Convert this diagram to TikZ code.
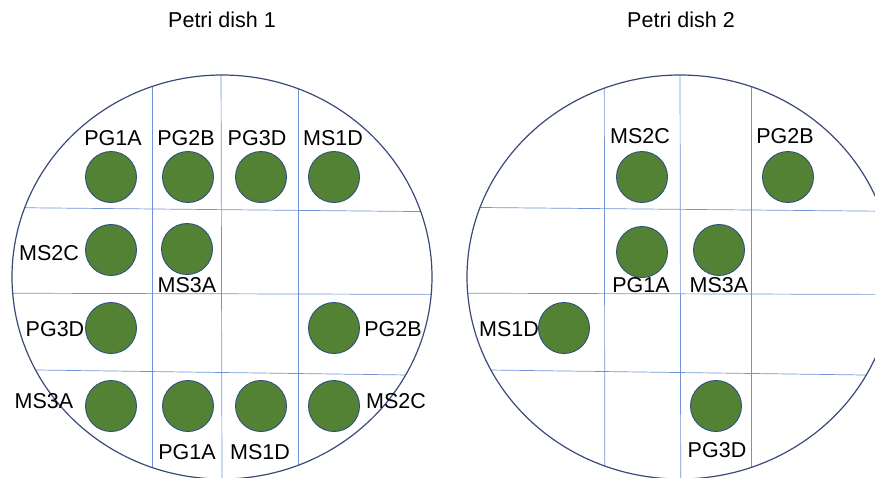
\documentclass[tikz,border=0pt]{standalone}
\usepackage{fontspec}
\setmainfont{Liberation Sans}
\definecolor{colony}{HTML}{548235}
\definecolor{colonyedge}{HTML}{2F4F7F}
\definecolor{gridblue}{HTML}{6F93D6}
\definecolor{dishedge}{HTML}{3A4A78}
\tikzset{
  colonynode/.style={circle,fill=colony,draw=colonyedge,line width=0.9pt,minimum size=51pt,inner sep=0pt},
  lbl/.style={anchor=base,inner sep=0pt,font=\fontsize{21.5}{24}\selectfont},
  gridline/.style={draw=gridblue,line width=0.7pt},
  dish/.style={draw=dishedge,line width=1.2pt}
}
\begin{document}
\begin{tikzpicture}[x=1pt,y=-1pt]
\useasboundingbox (0,0) rectangle (875,477);
% titles
\node[lbl] (t1) at (222,27) {Petri dish 1};
\node[lbl] (t2) at (681,27) {Petri dish 2};
% dish 1 grid
\begin{scope}
  \clip (222,277) ellipse [x radius=210, y radius=202];
  \draw[gridline] (0,207.5) -- (445,211.8);
  \draw[gridline] (0,293.2) -- (445,294.4);
  \draw[gridline] (0,369.5) -- (445,375.5);
  \draw[gridline] (152,60) -- (152,480);
  \draw[gridline] (221,60) -- (222,480);
  \draw[gridline] (298,60) -- (298,480);
\end{scope}
\draw[dish] (222,277) ellipse [x radius=210, y radius=202];
% dish 2 grid
\begin{scope}
  \clip (680,277) ellipse [x radius=213, y radius=202];
  \draw[gridline] (460,207.3) -- (880,211.2);
  \draw[gridline] (460,293.2) -- (880,294.4);
  \draw[gridline] (460,369.6) -- (880,375.2);
  \draw[gridline] (604.3,60) -- (604.8,480);
  \draw[gridline] (680,60) -- (680.7,480);
  \draw[gridline] (751.7,60) -- (751.7,480);
\end{scope}
\draw[dish] (680,277) ellipse [x radius=213, y radius=202];
% dish 1 colonies
\node[colonynode] (a1) at (111,177) {};
\node[colonynode] (a2) at (188,177) {};
\node[colonynode] (a3) at (261,177) {};
\node[colonynode] (a4) at (334,177) {};
\node[colonynode] (b1) at (111,250) {};
\node[colonynode] (b2) at (187,249) {};
\node[colonynode] (c1) at (111,328) {};
\node[colonynode] (c4) at (334,328) {};
\node[colonynode] (d1) at (111,406) {};
\node[colonynode] (d2) at (188,406) {};
\node[colonynode] (d3) at (261,406) {};
\node[colonynode] (d4) at (334,406) {};
% dish 1 labels
\node[lbl] (la1) at (113,145) {PG1A};
\node[lbl] (la2) at (186,145) {PG2B};
\node[lbl] (la3) at (257,145) {PG3D};
\node[lbl] (la4) at (333,145) {MS1D};
\node[lbl] (lb1) at (49,260) {MS2C};
\node[lbl] (lb2) at (187,292) {MS3A};
\node[lbl] (lc1) at (55,336) {PG3D};
\node[lbl] (lc4) at (393,336) {PG2B};
\node[lbl] (ld1) at (44,408) {MS3A};
\node[lbl] (ld4) at (396,408) {MS2C};
\node[lbl] (ld2) at (187,459) {PG1A};
\node[lbl] (ld3) at (260,459) {MS1D};
% dish 2 colonies
\node[colonynode] (e1) at (642,177) {};
\node[colonynode] (e2) at (788,177) {};
\node[colonynode] (f1) at (642,252) {};
\node[colonynode] (f2) at (719,250) {};
\node[colonynode] (g1) at (564,328) {};
\node[colonynode] (h1) at (716,406) {};
% dish 2 labels
\node[lbl] (le1) at (640,143) {MS2C};
\node[lbl] (le2) at (785,143) {PG2B};
\node[lbl] (lf1) at (641,292) {PG1A};
\node[lbl] (lf2) at (719,292) {MS3A};
\node[lbl] (lg1) at (509,336) {MS1D};
\node[lbl] (lh1) at (717,457) {PG3D};
\end{tikzpicture}
\end{document}
